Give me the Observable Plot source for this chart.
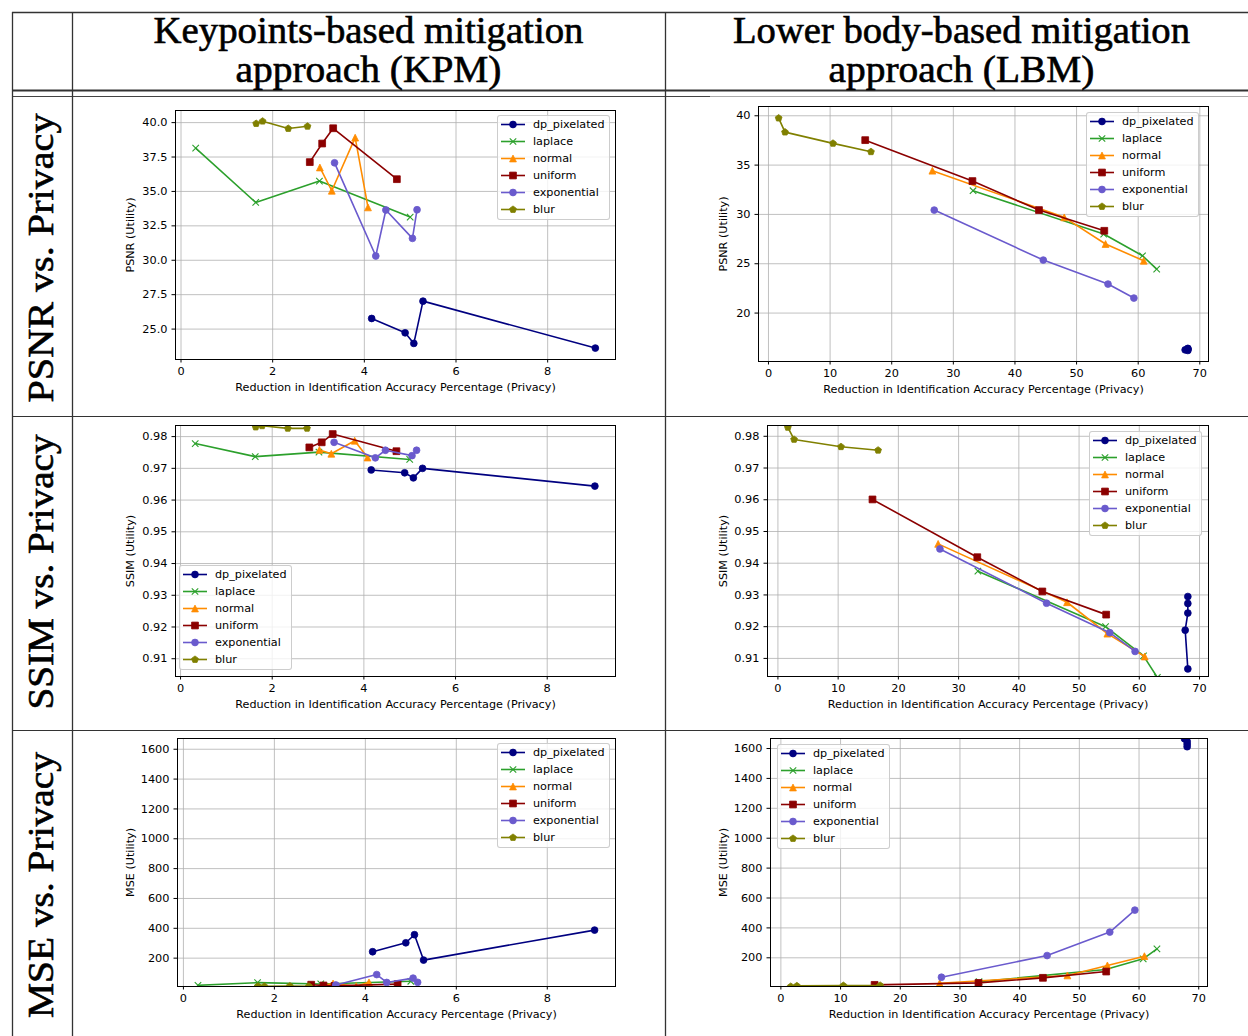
<!DOCTYPE html>
<html><head><meta charset="utf-8">
<script src="https://cdn.jsdelivr.net/npm/d3@7"></script>
<script src="https://cdn.jsdelivr.net/npm/@observablehq/plot@0.6"></script>
<style>
body{margin:0;background:#fff;}
#wrap{position:relative;width:1248px;height:1036px;overflow:hidden;background:#fff;}
.legend{position:absolute;box-sizing:border-box;border:1px solid rgba(200,200,200,0.9);border-radius:3px;background:rgba(255,255,255,0.8);padding:0 4px 1px 2px;font-family:"DejaVu Sans";font-size:11.2px;color:#000;white-space:nowrap;}
.legend .row{height:17px;display:flex;align-items:center;}
.legend svg{margin-right:7px;flex:none;display:block;}
</style></head><body><div id="wrap"></div><script>
// ---------------- data ----------------
const series = ["dp_pixelated","laplace","normal","uniform","exponential","blur"];
const colors = ["#000080","#2ca02c","#ff8c00","#8b0000","#6a5acd","#808000"];
const markers = ["circle","x","triangle","square","circle","pentagon"];

const headerLines = [["Keypoints-based mitigation","approach (KPM)"],["Lower body-based mitigation","approach (LBM)"]];
const rowLabels = ["PSNR vs. Privacy","SSIM vs. Privacy","MSE vs. Privacy"];
const xLabel = "Reduction in Identification Accuracy Percentage (Privacy)";
const yLabels = ["PSNR (Utility)","SSIM (Utility)","MSE (Utility)"];

// KPM (keypoints-based) — one inner array per series, in the order of `series`
const kpmPrivacy = [
  [4.16, 4.89, 5.08, 5.28, 9.04],
  [0.32, 1.63, 3.02, 5.00],
  [3.03, 3.29, 3.80, 4.08],
  [2.81, 3.08, 3.32, 4.71],
  [3.35, 4.25, 4.47, 5.05, 5.15],
  [1.64, 1.78, 2.34, 2.76]
];
const kpmPSNR = [
  [25.77, 24.73, 23.96, 27.03, 23.62],
  [38.14, 34.20, 35.75, 33.14],
  [36.74, 35.05, 38.91, 33.84],
  [37.13, 38.48, 39.59, 35.89],
  [37.08, 30.31, 33.65, 31.59, 33.67],
  [39.93, 40.10, 39.57, 39.73]
];
const kpmSSIM = [
  [0.9695, 0.9686, 0.9670, 0.9700, 0.9644],
  [0.9778, 0.9737, 0.9751, 0.9728],
  [0.9758, 0.9746, 0.9787, 0.9734],
  [0.9766, 0.9782, 0.9808, 0.9754],
  [0.9782, 0.9733, 0.9757, 0.9740, 0.9757],
  [0.9830, 0.9834, 0.9826, 0.9826]
];
const kpmMSE = [
  [243, 303, 357, 187, 388],
  [18, 36, 27, 45],
  [14, 30, 12, 38],
  [22, 17, 14, 26],
  [20, 90, 37, 66, 38],
  [12, 11, 13, 12]
];

// LBM (lower body-based)
const lbmPrivacy = [
  [68.06, 68.06, 68.06, 67.62, 68.06],
  [33.2, 54.4, 60.7, 63.0],
  [26.6, 48.0, 54.7, 60.9],
  [15.7, 33.1, 43.9, 54.5],
  [26.9, 44.6, 55.1, 59.3],
  [1.65, 2.68, 10.47, 16.63]
];
const lbmPSNR = [
  [16.42, 16.37, 16.32, 16.27, 16.21],
  [32.40, 28.01, 25.81, 24.46],
  [34.43, 29.70, 27.00, 25.30],
  [37.53, 33.38, 30.44, 28.34],
  [30.44, 25.37, 22.94, 21.52],
  [39.76, 38.34, 37.20, 36.35]
];
const lbmSSIM = [
  [0.9295, 0.9273, 0.9243, 0.9189, 0.9067],
  [0.9375, 0.9200, 0.9108, 0.9040],
  [0.9461, 0.9277, 0.9178, 0.9106],
  [0.9601, 0.9419, 0.9311, 0.9238],
  [0.9445, 0.9274, 0.9181, 0.9122],
  [0.9828, 0.9790, 0.9767, 0.9756]
];
const lbmMSE = [
  [1612, 1630, 1648, 1665, 1700],
  [40, 122, 193, 260],
  [30, 82, 149, 211],
  [19, 32, 66, 108],
  [70, 215, 372, 519],
  [8, 12, 14, 15]
];

// axis ticks
const kpmXTicks = [0, 2, 4, 6, 8];
const lbmXTicks = [0, 10, 20, 30, 40, 50, 60, 70];
const kpmPSNRTicks = [25, 27.5, 30, 32.5, 35, 37.5, 40];
const lbmPSNRTicks = [20, 25, 30, 35, 40];
const ssimTicks = [0.91, 0.92, 0.93, 0.94, 0.95, 0.96, 0.97, 0.98];
const mseTicks = [200, 400, 600, 800, 1000, 1200, 1400, 1600];

// ---------------- helpers ----------------
const wrap = document.getElementById("wrap");

function half(s){ return Math.sqrt(s / Math.PI); }
const sym = {
  circle: {draw(c, s){ const r = half(s); c.moveTo(r, 0); c.arc(0, 0, r, 0, 2 * Math.PI); }},
  square: {draw(c, s){ const r = half(s); c.rect(-r, -r, 2 * r, 2 * r); }},
  triangle: {draw(c, s){ const r = half(s); c.moveTo(0, -r); c.lineTo(r, r); c.lineTo(-r, r); c.closePath(); }},
  pentagon: {draw(c, s){ const r = half(s) * 1.05; for (let k = 0; k < 5; k++){ const a = -Math.PI/2 + k * 2 * Math.PI / 5; const px = r * Math.cos(a), py = r * Math.sin(a); if (k === 0) c.moveTo(px, py); else c.lineTo(px, py); } c.closePath(); }},
  x: {draw(c, s){ const r = half(s) * 0.95; c.moveTo(-r, -r); c.lineTo(r, r); c.moveTo(-r, r); c.lineTo(r, -r); }}
};
const MR = 3.4;

function rowsOf(priv, metric){
  return series.flatMap((s, i) => priv[i].map((x, j) => ({series: s, x, y: metric[i][j], j})));
}

function chart(cfg){
  const [fx0, fy0, fx1, fy1] = cfg.frame;
  const ml = 90, mt = 12, mr = 12, mb = 50;
  const W = fx1 - fx0 + ml + mr, H = fy1 - fy0 + mt + mb;
  const rows = rowsOf(cfg.priv, cfg.metric);
  const marks = [
    Plot.gridX(cfg.xticks, {stroke: "#b0b0b0", strokeOpacity: 1, strokeWidth: 0.8}),
    Plot.gridY(cfg.yticks, {stroke: "#b0b0b0", strokeOpacity: 1, strokeWidth: 0.8})
  ];
  series.forEach((s, i) => {
    const d = rows.filter(r => r.series === s);
    marks.push(Plot.line(d, {x: "x", y: "y", stroke: colors[i], strokeWidth: 1.6, clip: true}));
    const isX = markers[i] === "x";
    marks.push(Plot.dot(d, {x: "x", y: "y", symbol: sym[markers[i]], r: MR,
      fill: isX ? "none" : colors[i], stroke: colors[i], strokeWidth: isX ? 1.1 : 0.8, clip: true}));
  });
  marks.push(Plot.frame({stroke: "#000", strokeWidth: 1}));
  marks.push(Plot.axisX(cfg.xticks, {tickSize: 3.5, tickPadding: 4, fontSize: 11.3, label: null, tickFormat: d => String(d)}));
  marks.push(Plot.axisY(cfg.yticks, {tickSize: 3.5, tickPadding: 4.5, fontSize: 11.3, label: null, tickFormat: cfg.yfmt}));
  marks.push(Plot.text([xLabel], {frameAnchor: "bottom", dy: 28, lineAnchor: "middle", fontSize: 11.2, text: d => d}));
  marks.push(Plot.text([cfg.ylabel], {frameAnchor: "left", dx: cfg.ylabelDx, rotate: -90, lineAnchor: "middle", textAnchor: "middle", fontSize: 11.2, text: d => d}));
  const svg = Plot.plot({
    width: W, height: H, marginLeft: ml, marginRight: mr, marginTop: mt, marginBottom: mb,
    x: {domain: cfg.xdom}, y: {domain: cfg.ydom},
    style: {fontFamily: "DejaVu Sans", background: "transparent", color: "#000", overflow: "visible"},
    marks
  });
  svg.style.position = "absolute";
  svg.style.left = (fx0 - ml) + "px";
  svg.style.top = (fy0 - mt) + "px";
  wrap.appendChild(svg);
  legend(cfg.legend[0], cfg.legend[1]);
}

function legend(left, firstCenter){
  const div = document.createElement("div");
  div.className = "legend";
  div.style.left = left + "px";
  div.style.top = (firstCenter - 9.5) + "px";
  series.forEach((s, i) => {
    const row = document.createElement("div");
    row.className = "row";
    const svg = d3.create("svg").attr("width", 26).attr("height", 17);
    svg.append("line").attr("x1", 1).attr("x2", 25).attr("y1", 8.5).attr("y2", 8.5)
      .attr("stroke", colors[i]).attr("stroke-width", 1.6);
    const isX = markers[i] === "x";
    svg.append("path").attr("transform", "translate(13,8.5)")
      .attr("d", d3.symbol(sym[markers[i]], Math.PI * MR * MR)())
      .attr("fill", isX ? "none" : colors[i]).attr("stroke", colors[i]).attr("stroke-width", isX ? 1.1 : 0.8);
    row.appendChild(svg.node());
    const t = document.createElement("span");
    t.textContent = s;
    row.appendChild(t);
    div.appendChild(row);
  });
  wrap.appendChild(div);
}

// ---------------- table frame & headers ----------------
const T = d3.create("svg").attr("width", 1248).attr("height", 1036)
  .style("position", "absolute").style("left", "0px").style("top", "0px");
const lc = "#333";
function hl(y, x0, x1, w, c){ T.append("line").attr("x1", x0).attr("x2", x1).attr("y1", y).attr("y2", y).attr("stroke", c || lc).attr("stroke-width", w); }
function vl(x, y0, y1, w){ T.append("line").attr("x1", x).attr("x2", x).attr("y1", y0).attr("y2", y1).attr("stroke", lc).attr("stroke-width", w); }
hl(12.5, 12, 1248, 1.3);
hl(90.5, 12, 1248, 2);
hl(96.5, 12, 710, 1.1, "#444");
hl(96.5, 710, 1248, 1.1, "#aaa");
hl(416.5, 12, 1248, 1.2);
hl(730.5, 12, 1248, 1.2);
vl(12.5, 12, 1036, 1.3);
vl(72.5, 12, 1036, 1.3);
vl(665.5, 12, 1036, 1.3);

const serif = "Liberation Serif";
const colCenters = [368.5, 961.5];
const headLens = [[430, 266], [457, 266]];
headerLines.forEach((lines, c) => {
  lines.forEach((txt, k) => {
    T.append("text").attr("x", colCenters[c]).attr("y", k === 0 ? 42.5 : 81.5)
      .attr("text-anchor", "middle").attr("font-family", serif).attr("font-size", 37)
      .attr("textLength", headLens[c][k]).attr("lengthAdjust", "spacingAndGlyphs")
      .attr("fill", "#000").attr("stroke", "#000").attr("stroke-width", 0.6).text(txt);
  });
});
const rowCenters = [258, 572, 885];
const rowLens = [289, 275, 266];
rowLabels.forEach((txt, r) => {
  T.append("text").attr("transform", `translate(52.5,${rowCenters[r]}) rotate(-90)`)
    .attr("text-anchor", "middle").attr("font-family", serif).attr("font-size", 36)
    .attr("textLength", rowLens[r]).attr("lengthAdjust", "spacingAndGlyphs")
    .attr("fill", "#000").attr("stroke", "#000").attr("stroke-width", 0.6).text(txt);
});
wrap.appendChild(T.node());

// ---------------- the six charts ----------------
chart({frame: [175, 110, 615, 359], priv: kpmPrivacy, metric: kpmPSNR, xdom: [-0.12, 9.48], ydom: [22.79, 40.88],
  xticks: kpmXTicks, yticks: kpmPSNRTicks, yfmt: d3.format(".1f"), ylabel: yLabels[0], ylabelDx: -45, legend: [497, 124.3]});
chart({frame: [758, 106, 1208, 361], priv: lbmPrivacy, metric: lbmPSNR, xdom: [-1.62, 71.41], ydom: [15.09, 40.94],
  xticks: lbmXTicks, yticks: lbmPSNRTicks, yfmt: d => String(d), ylabel: yLabels[0], ylabelDx: -35, legend: [1086, 121]});
chart({frame: [175, 425, 615, 676], priv: kpmPrivacy, metric: kpmSSIM, xdom: [-0.11, 9.49], ydom: [0.9044, 0.9835],
  xticks: kpmXTicks, yticks: ssimTicks, yfmt: d3.format(".2f"), ylabel: yLabels[1], ylabelDx: -45, legend: [179, 574]});
chart({frame: [767, 425, 1208, 676], priv: lbmPrivacy, metric: lbmSSIM, xdom: [-1.73, 71.49], ydom: [0.9043, 0.9834],
  xticks: lbmXTicks, yticks: ssimTicks, yfmt: d3.format(".2f"), ylabel: yLabels[1], ylabelDx: -44, legend: [1089, 440.7]});
chart({frame: [177, 738, 615, 986], priv: kpmPrivacy, metric: kpmMSE, xdom: [-0.13, 9.50], ydom: [10, 1672],
  xticks: kpmXTicks, yticks: mseTicks, yfmt: d => String(d), ylabel: yLabels[2], ylabelDx: -47, legend: [497, 752.7]});
chart({frame: [770, 738, 1207, 986], priv: lbmPrivacy, metric: lbmMSE, xdom: [-1.74, 71.47], ydom: [8, 1667],
  xticks: lbmXTicks, yticks: mseTicks, yfmt: d => String(d), ylabel: yLabels[2], ylabelDx: -47, legend: [777, 753.3]});
</script></body></html>
